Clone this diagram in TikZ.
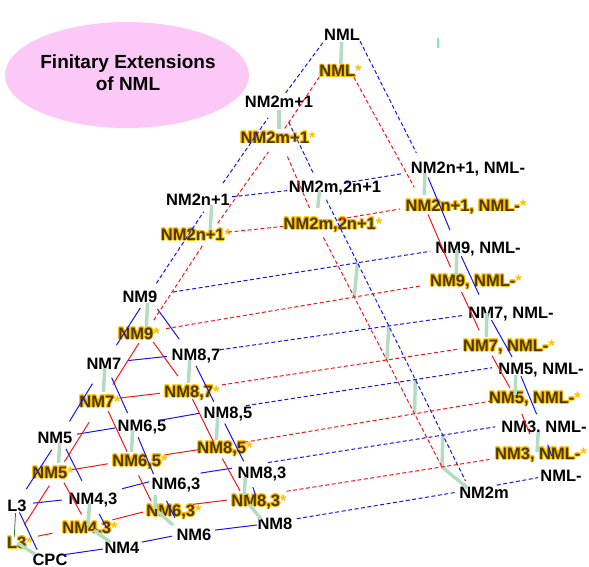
\documentclass[tikz,border=0pt]{standalone}
\usepackage{fontspec}
\setmainfont{Liberation Sans}
\usepackage[copies]{contour}
\contourlength{1pt}
\definecolor{bl}{HTML}{1414FF}
\definecolor{rd}{HTML}{FF1414}
\definecolor{gr}{HTML}{B4DCC4}
\definecolor{dkgr}{HTML}{2A7A34}
\definecolor{gold}{HTML}{FFC000}
\definecolor{olv}{HTML}{4A3A00}
\definecolor{pinkf}{HTML}{FCC8F8}
\newcommand{\stl}[1]{\textcolor{olv}{\contour{gold}{#1}}\textcolor{gold}{*}}
\begin{document}
\begin{tikzpicture}[x=1pt,y=-1pt,
 lbl/.style={font=\bfseries\fontsize{16.5}{18}\selectfont, inner sep=0pt, text height=12pt, text depth=0pt},
 lat/.style={circle, inner sep=0pt, minimum size=0pt},
 bs/.style={bl, line width=1pt},
 bd/.style={bl, line width=1pt, dash pattern=on 4pt off 2.5pt},
 rs/.style={rd, line width=1pt},
 rdd/.style={rd, line width=1pt, dash pattern=on 4pt off 2.5pt},
 gl/.style={gr, line width=3.5pt},
 sh/.style 2 args={shorten <=#1pt, shorten >=#2pt}]
\path[use as bounding box] (0,0) rectangle (589,567);
% title ellipse
\fill[pinkf] (127,75) ellipse [x radius=122, y radius=53];
\node[font=\bfseries\fontsize{19}{22}\selectfont, align=center] (title) at (128,73) {Finitary Extensions\\of NML};
% ---------- text labels ----------
\node[lbl] (tNML) at (342,35) {NML};
\node[lbl] (tNMLs) at (340.5,71) {\stl{NML}};
\node[lbl] (tM) at (279,102) {NM2m+1};
\node[lbl] (tMs) at (278,137) {\stl{NM2m+1}};
\node[lbl] (tMN) at (335,187) {NM2m,2n+1};
\node[lbl] (tMNs) at (333,223) {\stl{NM2m,2n+1}};
\node[lbl] (tN) at (198,199) {NM2n+1};
\node[lbl] (tNs) at (196,234) {\stl{NM2n+1}};
\node[lbl] (tRN) at (468,168) {NM2n+1, NML-};
\node[lbl] (tRNs) at (466,205) {\stl{NM2n+1, NML-}};
\node[lbl] (tR9) at (478,247) {NM9, NML-};
\node[lbl] (tR9s) at (476,280) {\stl{NM9, NML-}};
\node[lbl] (t9) at (140,296) {NM9};
\node[lbl] (t9s) at (139,333) {\stl{NM9}};
\node[lbl] (tR7) at (511,312) {NM7, NML-};
\node[lbl] (tR7s) at (509,345) {\stl{NM7, NML-}};
\node[lbl] (t87) at (196,354) {NM8,7};
\node[lbl] (t87s) at (192,391) {\stl{NM8,7}};
\node[lbl] (t7) at (104,363) {NM7};
\node[lbl] (t7s) at (100,401) {\stl{NM7}};
\node[lbl] (tR5) at (541,368) {NM5, NML-};
\node[lbl] (tR5s) at (535,397) {\stl{NM5, NML-}};
\node[lbl] (t85) at (228,412) {NM8,5};
\node[lbl] (t85s) at (225,447) {\stl{NM8,5}};
\node[lbl] (t65) at (142,425) {NM6,5};
\node[lbl] (t65s) at (140,460) {\stl{NM6,5}};
\node[lbl] (t5) at (55,437) {NM5};
\node[lbl] (t5s) at (53,472) {\stl{NM5}};
\node[lbl] (tR3) at (544,426) {NM3, NML-};
\node[lbl] (tR3s) at (541,453) {\stl{NM3, NML-}};
\node[lbl] (t83) at (262,472) {NM8,3};
\node[lbl] (t83s) at (259,500) {\stl{NM8,3}};
\node[lbl] (t63) at (176,483) {NM6,3};
\node[lbl] (t63s) at (174,510) {\stl{NM6,3}};
\node[lbl] (t43) at (93,498) {NM4,3};
\node[lbl] (t43s) at (90,527) {\stl{NM4,3}};
\node[lbl] (tL3) at (17,505) {L3};
\node[lbl] (tL3s) at (20,542) {\stl{L3}};
\node[lbl] (tRL) at (561,475) {NML-};
\node[lbl] (t2m) at (484,492) {NM2m};
\node[lbl] (t8) at (275,523) {NM8};
\node[lbl] (t6) at (194,534) {NM6};
\node[lbl] (t4) at (122,547) {NM4};
\node[lbl] (tCPC) at (50,559) {CPC};
% ---------- lattice points ----------
\foreach \n/\p in {M/{279,102}, N/{212,199}, MN/{320,187}, RN/{425,170}, B9/{148,296}, R9/{457,247},
  B7/{105,363}, B87/{190,354}, R7/{487,312}, B5/{60,437}, B65/{133,425}, B85/{218,410}, R5/{516,364},
  L3/{16,505}, B43/{90,497}, B63/{156,480}, B83/{246,466}, R3/{539,420}, CPC/{41,558}, B4/{117,547},
  B6/{183,534}, B8/{265,524}, B2m/{470,490}, RL/{558,474},
  Ms/{279,137}, Ns/{210,234}, MNs/{316,223}, RNs/{424,205}, S9/{146,332}, R9s/{456,280}, S7/{103,400},
  S87/{188,390}, R7s/{486,345}, S5/{58,472}, S65/{131,460}, S85/{216,447}, R5s/{515,397}, L3s/{14,541},
  S43/{88,526}, S63/{155,509}, S83/{244,498}, R3s/{537,452}, C3s/{442,467}}
  {\node[lat] (\n) at (\p) {};}
\coordinate (H9) at (intersection of B9--R9 and MN--B2m);
\coordinate (H7) at (intersection of B87--R7 and MN--B2m);
\coordinate (H5) at (intersection of B85--R5 and MN--B2m);
\coordinate (H3) at (intersection of B83--R3 and MN--B2m);
\coordinate (H9s) at (intersection of S9--R9s and MNs--C3s);
\coordinate (H7s) at (intersection of S87--R7s and MNs--C3s);
\coordinate (H5s) at (intersection of S85--R5s and MNs--C3s);
% ---------- green links ----------
\draw[gl, sh={1}{1}] (tNML) -- (tNMLs);
\foreach \a/\b/\s/\e in {M/Ms/8/8, N/Ns/6/4, MN/MNs/3/15, RN/RNs/3/10, R9/R9s/3/5, R7/R7s/1/8,
  R5/R5s/11/2, R3/R3s/12/0, B9/S9/7/5, B7/S7/5/8, B5/S5/6/9, B87/S87/6/7, B85/S85/7/7, B83/S83/11/3,
  B65/S65/5/8, B63/S63/15/0, B43/S43/6/0, L3s/CPC/4/7, S43/B4/7/8, S63/B6/4/13, S83/B8/8/6, C3s/B2m/0/3,
  H9/H9s/0/0, H7/H7s/0/0, H5/H5s/0/0, H3/C3s/0/0}
  {\draw[gl, sh={\s}{\e}] (\a) -- (\b);}
\draw[dkgr, line width=0.8pt, sh={8}{4}] (L3) -- (L3s);
\draw[gr!70!cyan, line width=2pt] (438,38) -- (438,48);
% ---------- blue solid ----------
\foreach \a/\b/\s/\e in {L3/B5/19/15, B5/B7/18/24, B7/B9/21/14, L3/CPC/8/9, B5/B43/13/18, B43/B4/19/22,
  B7/B65/16/13, B65/B63/13/6, B63/B6/23/18, B9/B87/16/18, B87/B85/13/9, B85/B83/15/5, B83/B8/22/30,
  B7/B87/23/23, B5/B65/17/18, B65/B85/27/18, L3/B43/17/28, B43/B63/33/7, B63/B83/45/14, CPC/B4/22/14,
  B4/B6/25/11, B6/B8/32/8, RN/R9/8/18, R9/R7/10/19, R7/R5/9/8, R5/R3/13/6, R3/RL/26/19}
  {\draw[bs, sh={\s}{\e}] (\a) -- (\b);}
% ---------- blue dashed ----------
\foreach \a/\b/\s/\e in {B9/N/15/15, N/M/19/19, M/MN/22/14, MN/B2m/14/10, N/MN/20/33, MN/RN/26/22,
  B9/R9/25/27, B87/R7/30/24, B85/R5/28/24, B83/R3/22/44, B8/B2m/32/13, B2m/RL/27/20}
  {\draw[bd, sh={\s}{\e}] (\a) -- (\b);}
\draw[bd, sh={11}{0}] (M) -- (tNML.south west);
\draw[bd, sh={0}{19}] (tNML.south east) -- (RN);
% ---------- red solid ----------
\foreach \a/\b/\s/\e in {L3s/S5/19/16, S5/S7/12/26, S7/S9/18/13, S5/S43/12/13, S7/S65/12/9, S65/S63/17/9,
  S9/S87/12/17, S87/S85/10/6, S85/S83/13/8, S7/S87/17/28, S5/S65/14/23, S65/S85/34/16, L3s/S43/24/36,
  S43/S63/25/12, S63/S83/38/17, RNs/R9s/10/14, R9s/R7s/13/16, R7s/R5s/12/10, R5s/R3s/18/19}
  {\draw[rs, sh={\s}{\e}] (\a) -- (\b);}
% ---------- red dashed ----------
\foreach \a/\b/\s/\e in {S9/Ns/14/14, Ns/Ms/13/18, Ms/MNs/21/16, MNs/C3s/16/0, Ns/MNs/18/33, MNs/RNs/25/24,
  S9/R9s/20/36, S87/R7s/34/26, S85/R5s/22/22, S83/R3s/43/48}
  {\draw[rdd, sh={\s}{\e}] (\a) -- (\b);}
\draw[rdd, sh={10}{0}] (Ms) -- (tNMLs.south west);
\draw[rdd, sh={0}{20}] ([xshift=-8pt]tNMLs.south east) -- (RNs);
\end{tikzpicture}
\end{document}
